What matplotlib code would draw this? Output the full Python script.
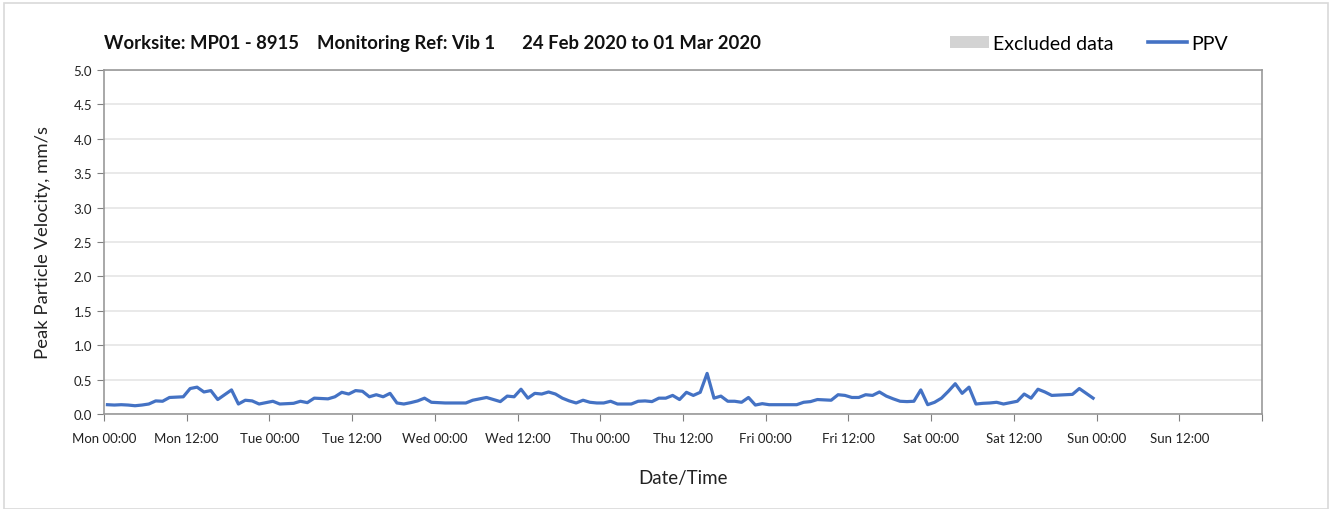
import matplotlib
matplotlib.use("Agg")
import matplotlib.pyplot as plt
import matplotlib.dates as mdates
from matplotlib.patches import Patch, Rectangle
from matplotlib.lines import Line2D
import pandas as pd

plt.rcParams['font.family'] = ['Lato', 'DejaVu Sans']

# hourly PPV readings, Mon 24 Feb 00:30 -> Sat 29 Feb 23:30
ppv = [
    0.135, 0.13, 0.135, 0.13, 0.12, 0.13, 0.145, 0.19, 0.185, 0.24, 0.245, 0.25,
    0.37, 0.39, 0.32, 0.34, 0.21, 0.28, 0.35, 0.145, 0.20, 0.19, 0.145, 0.165,
    0.185, 0.145, 0.15, 0.155, 0.185, 0.165, 0.23, 0.225, 0.22, 0.25, 0.315, 0.29,
    0.34, 0.33, 0.25, 0.28, 0.25, 0.30, 0.16, 0.145, 0.165, 0.19, 0.23, 0.17,
    0.165, 0.16, 0.16, 0.16, 0.16, 0.20, 0.22, 0.24, 0.21, 0.18, 0.26, 0.25,
    0.36, 0.23, 0.30, 0.29, 0.32, 0.29, 0.23, 0.19, 0.16, 0.20, 0.17, 0.16,
    0.16, 0.185, 0.145, 0.145, 0.145, 0.185, 0.19, 0.18, 0.23, 0.23, 0.27, 0.21,
    0.315, 0.27, 0.315, 0.59, 0.23, 0.26, 0.185, 0.185, 0.17, 0.24, 0.13, 0.15,
    0.135, 0.135, 0.135, 0.135, 0.135, 0.17, 0.18, 0.21, 0.205, 0.20, 0.28, 0.27,
    0.24, 0.24, 0.28, 0.27, 0.32, 0.26, 0.22, 0.185, 0.18, 0.185, 0.35, 0.135,
    0.17, 0.23, 0.33, 0.44, 0.30, 0.39, 0.145, 0.155, 0.16, 0.17, 0.145, 0.165,
    0.185, 0.29, 0.23, 0.36, 0.32, 0.27, 0.275, 0.28, 0.285, 0.37, 0.30, 0.23,
]
times = pd.date_range("2020-02-24 00:30", periods=len(ppv), freq="h")

x_start = pd.Timestamp("2020-02-24 00:00")
x_end = pd.Timestamp("2020-03-02 00:00")
tick_times = pd.date_range(x_start, x_end, freq="12h")
tick_labels = ["Mon 00:00", "Mon 12:00", "Tue 00:00", "Tue 12:00", "Wed 00:00",
               "Wed 12:00", "Thu 00:00", "Thu 12:00", "Fri 00:00", "Fri 12:00",
               "Sat 00:00", "Sat 12:00", "Sun 00:00", "Sun 12:00", ""]
grid_times = pd.date_range(x_start, x_end, freq="24h")

title = "Worksite: MP01 - 8915    Monitoring Ref: Vib 1      24 Feb 2020 to 01 Mar 2020"

fig = plt.figure(figsize=(13.35, 5.1), dpi=100)
fig.patches.append(Rectangle((0.003, 0.0), 0.992, 0.992, transform=fig.transFigure,
                             fill=False, edgecolor="#d9d9d9", linewidth=1.2))
ax = fig.add_axes([0.0779, 0.1863, 0.8674, 0.6745])

ax.plot(times, ppv, color="#4472C4", linewidth=2.3, zorder=3)

ax.set_xlim(x_start, x_end)
ax.set_ylim(0, 5)
ax.set_yticks([i * 0.5 for i in range(11)])
ax.set_yticklabels(["%.1f" % (i * 0.5) for i in range(11)])
ax.set_xticks(mdates.date2num(tick_times))
ax.set_xticklabels(tick_labels)
ax.set_xticks(mdates.date2num(grid_times), minor=True)
ax.tick_params(axis="x", which="minor", length=0)
ax.tick_params(axis="both", which="major", length=5, color="#808080",
               labelsize=9.5, labelcolor="#222222")
ax.tick_params(axis="x", which="major", pad=8)

ax.grid(axis="x", which="minor", color="#d9d9d9", linewidth=1.2)
ax.grid(axis="y", which="major", color="#e3e3e3", linewidth=1.1)
ax.set_axisbelow(True)
for s in ax.spines.values():
    s.set_color("#999999")
    s.set_linewidth(1.2)

ax.set_ylabel("Peak Particle Velocity, mm/s", fontsize=13.3, color="#222222", labelpad=16)
ax.set_xlabel("Date/Time", fontsize=13.5, color="#222222", labelpad=18)
ax.text(0.0, 1.08, title, transform=ax.transAxes, fontsize=13.3, fontweight="bold",
        va="center", ha="left", color="#111111")

handles = [Patch(facecolor="#d3d3d3", edgecolor="none"),
           Line2D([0], [0], color="#4472C4", linewidth=2.6)]
ax.legend(handles, ["Excluded data", "PPV"], ncol=2, frameon=False, loc="center right",
          bbox_to_anchor=(0.977, 1.078), fontsize=14, handlelength=2.0, handleheight=0.6,
          handletextpad=0.2, columnspacing=1.8, borderaxespad=0)

fig.savefig("out.png", dpi=100)
